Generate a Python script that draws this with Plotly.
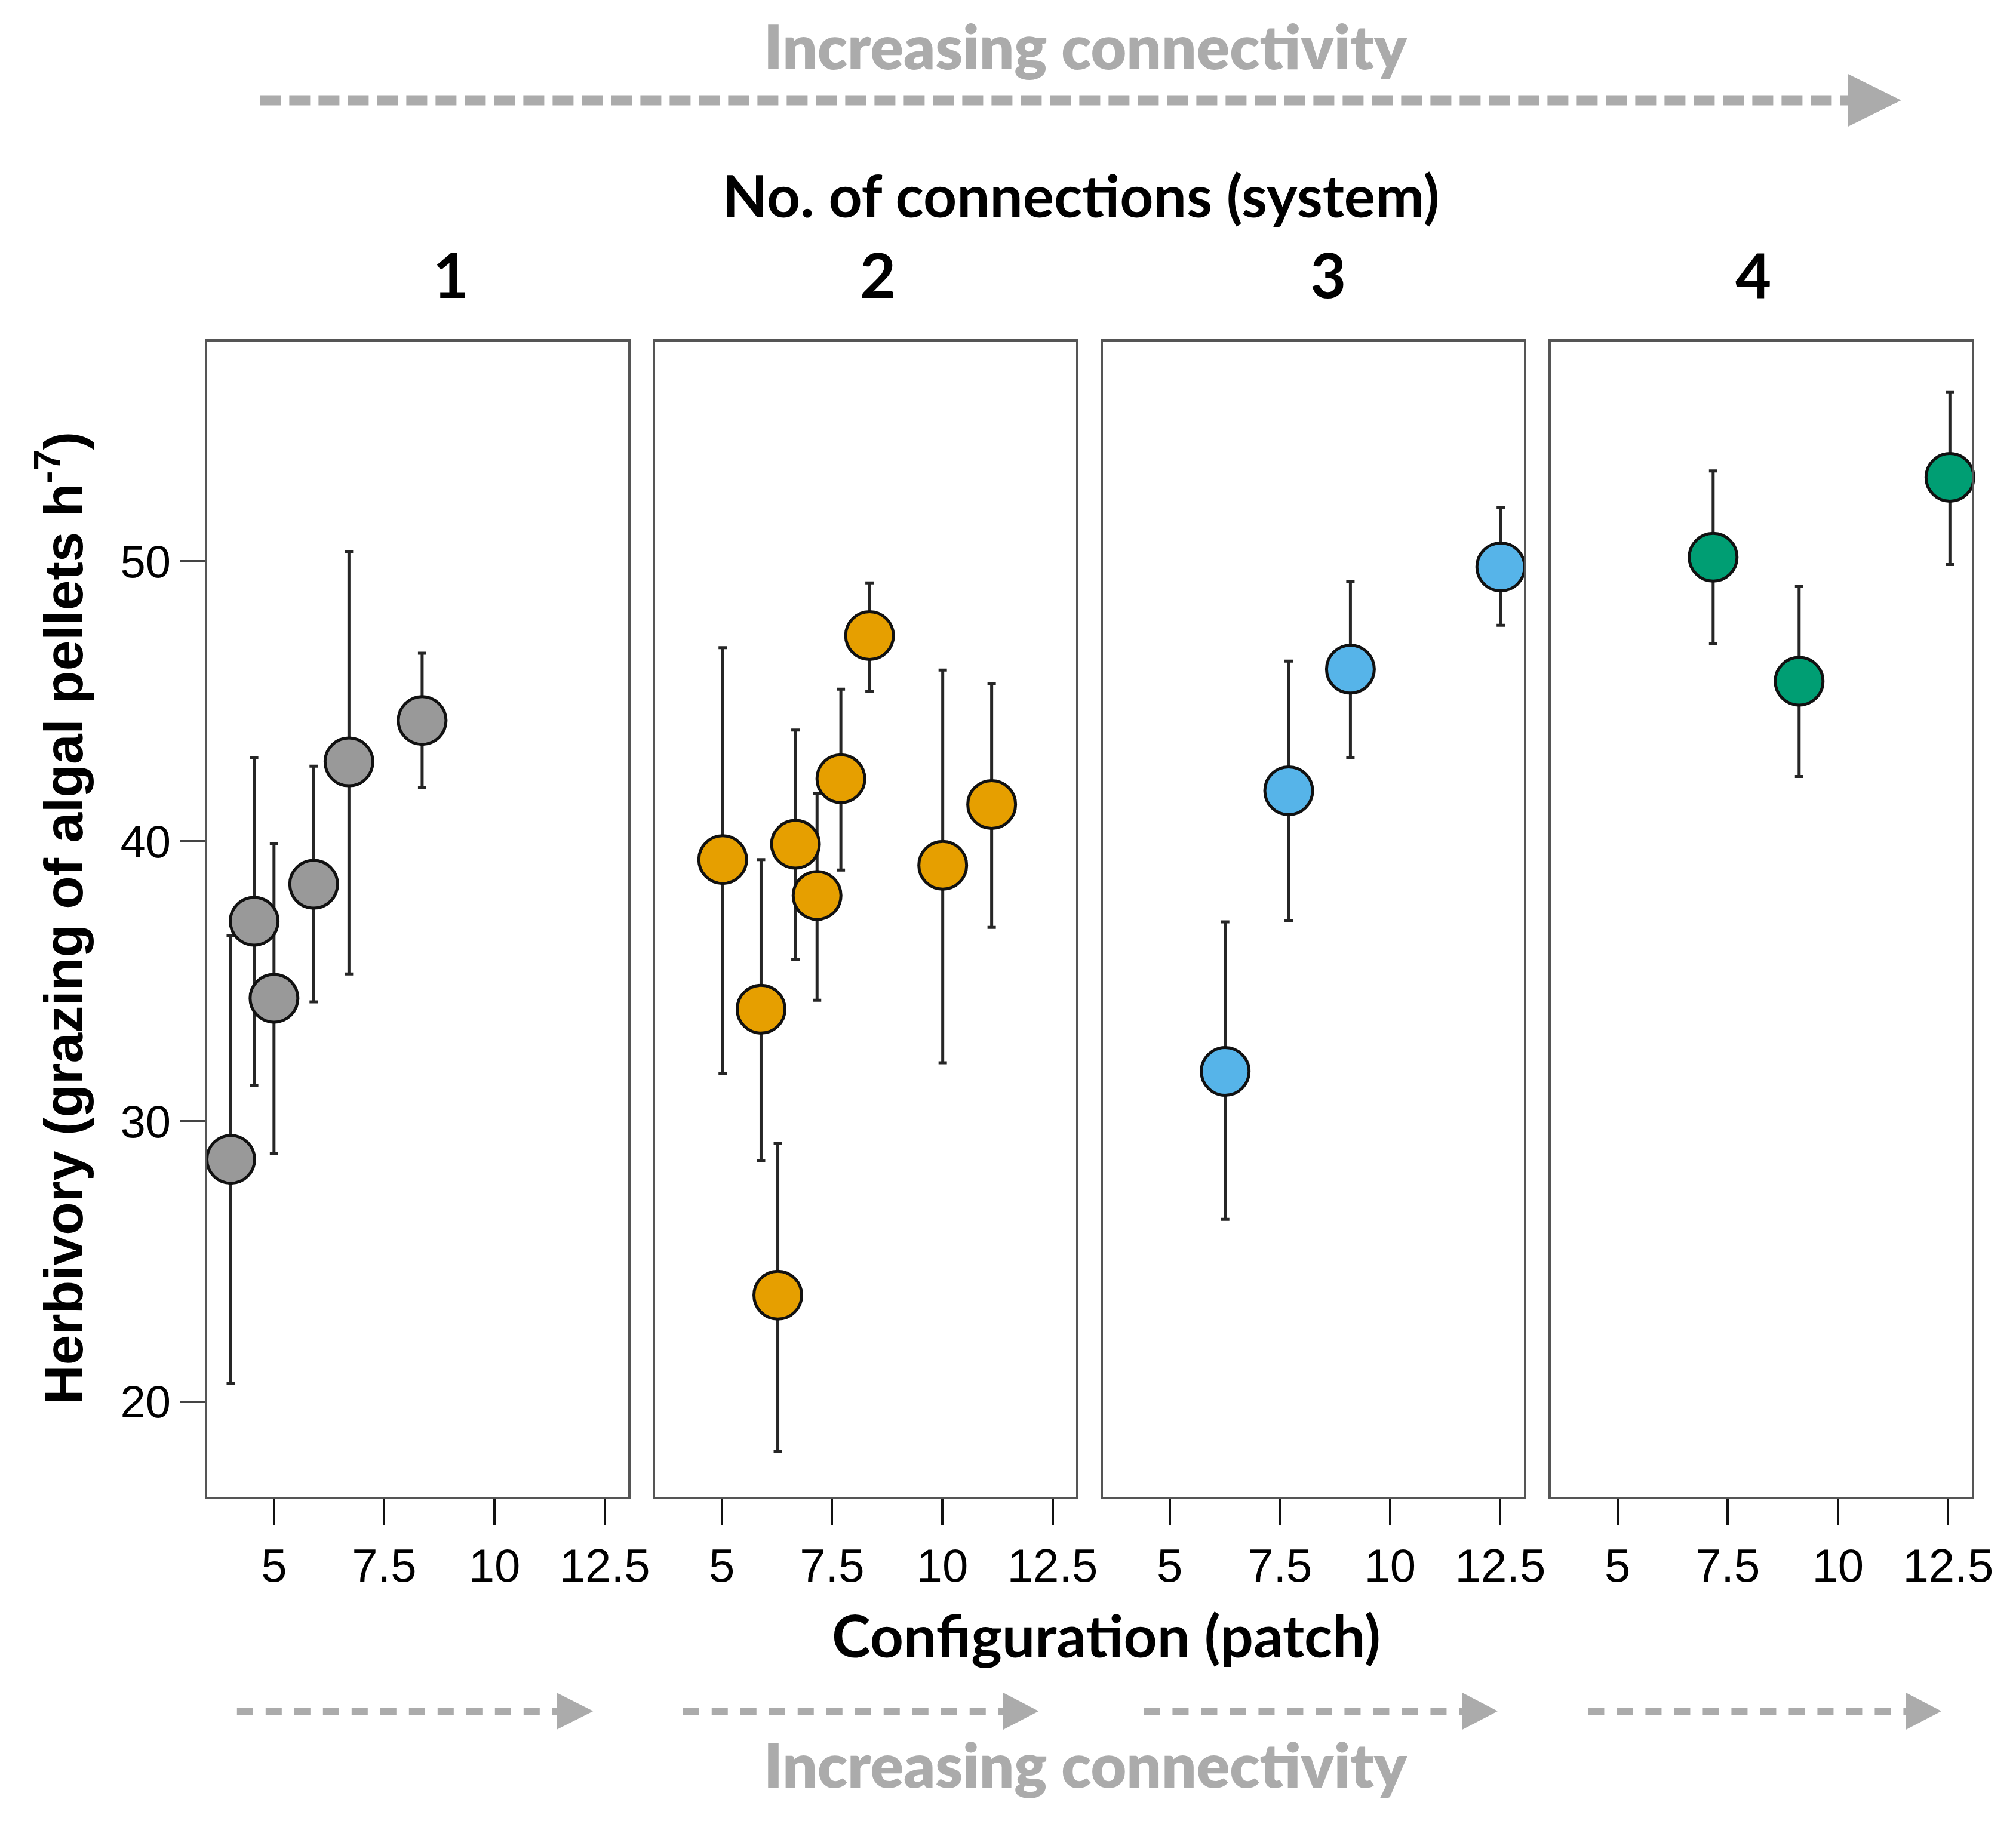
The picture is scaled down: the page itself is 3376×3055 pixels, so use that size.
import plotly.graph_objects as go

W, H = 3376, 3055

# ---------------- data ----------------
panel_titles = ["1", "2", "3", "4"]
colors = ["#999999", "#E69F00", "#56B4E9", "#009E73"]

p1_x = [4.02, 4.55, 5.00, 5.90, 6.70, 8.36]
p1_y = [28.65, 37.15, 34.40, 38.47, 42.84, 44.32]
p1_hi = [36.64, 43.00, 39.93, 42.69, 50.35, 46.72]
p1_lo = [20.66, 31.28, 28.85, 34.27, 35.27, 41.92]

p2_x = [5.02, 5.89, 6.27, 6.67, 7.16, 7.70, 8.35, 10.01, 11.12]
p2_y = [39.35, 34.01, 23.80, 39.90, 38.07, 42.24, 47.35, 39.15, 41.32]
p2_hi = [46.92, 39.35, 29.22, 43.98, 41.72, 45.44, 49.23, 46.12, 45.64]
p2_lo = [31.71, 28.59, 18.23, 35.78, 34.33, 38.98, 45.35, 32.10, 36.93]

p3_x = [6.26, 7.70, 9.10, 12.51]
p3_y = [31.79, 41.81, 46.15, 49.80]
p3_hi = [37.13, 46.44, 49.29, 51.92]
p3_lo = [26.51, 37.16, 42.98, 47.72]

p4_x = [7.17, 9.12, 12.54]
p4_y = [50.15, 45.72, 53.00]
p4_hi = [53.23, 49.12, 56.03]
p4_lo = [47.06, 42.32, 49.89]

x_tickvals = [5, 7.5, 10, 12.5]
x_ticktext = ["5", "7.5", "10", "12.5"]
y_tickvals = [20, 30, 40, 50]
y_ticktext = ["20", "30", "40", "50"]

x_title = "Configuration (patch)"
y_title = "Herbivory (grazing of algal pellets h<sup>-7</sup>)"
top_title = "No. of connections (system)"
arrow_text = "Increasing connectivity"

panels = [
    (p1_x, p1_y, p1_hi, p1_lo),
    (p2_x, p2_y, p2_hi, p2_lo),
    (p3_x, p3_y, p3_hi, p3_lo),
    (p4_x, p4_y, p4_hi, p4_lo),
]

# ---------------- layout helpers ----------------
def fx(p):
    return p / W

def fy(p):
    return 1 - p / H

PANEL_W = 712
panel_left = [343, 1101, 1859, 2617]
top_px, bot_px = 564, 2499
xr = [3.49, 13.03]
yr = [16.6, 57.85]

GRAY = "#ababab"
TITLE_FONT = "Lato"
AX_FONT = "Liberation Sans"

fig = go.Figure()
layout = dict(
    width=W, height=H,
    margin=dict(l=0, r=0, t=0, b=0),
    paper_bgcolor="white", plot_bgcolor="white",
    showlegend=False,
)

for i, (xs, ys, hi, lo) in enumerate(panels):
    sfx = "" if i == 0 else str(i + 1)
    fig.add_trace(go.Scatter(
        x=xs, y=ys, mode="markers",
        xaxis="x" + sfx, yaxis="y" + sfx,
        cliponaxis=False,
        error_y=dict(type="data", symmetric=False,
                     array=[h - v for h, v in zip(hi, ys)],
                     arrayminus=[v - l for l, v in zip(lo, ys)],
                     color="#262626", thickness=5, width=7),
        marker=dict(size=80, color=colors[i],
                    line=dict(color="#111111", width=5)),
        hoverinfo="skip",
    ))
    x0 = panel_left[i]
    x1 = x0 + PANEL_W
    layout["xaxis" + sfx] = dict(
        domain=[fx(x0), fx(x1)], range=xr, anchor="y" + sfx,
        tickvals=x_tickvals, ticktext=x_ticktext,
        ticks="outside", ticklen=44, tickwidth=4, tickcolor="#111111",
        showline=True, mirror=True, linecolor="#555555", linewidth=4,
        showgrid=False, zeroline=False,
        tickfont=dict(family=AX_FONT, size=78, color="black"),
    )
    layout["yaxis" + sfx] = dict(
        domain=[fy(bot_px), fy(top_px)], range=yr, anchor="x" + sfx,
        tickvals=y_tickvals, ticktext=y_ticktext,
        ticks="outside" if i == 0 else "", ticklen=42, tickwidth=4,
        tickcolor="#444444", showticklabels=(i == 0),
        showline=True, mirror=True, linecolor="#555555", linewidth=4,
        showgrid=False, zeroline=False,
        tickfont=dict(family=AX_FONT, size=76, color="black"),
    )

fig.update_layout(**layout)

# ---------------- annotations ----------------
ann = []
def add_text(text, x, y, size, color="black", family=TITLE_FONT, weight=700, angle=0):
    ann.append(dict(text=text, x=fx(x), y=fy(y), xref="paper", yref="paper",
                    showarrow=False, xanchor="center", yanchor="middle",
                    textangle=angle,
                    font=dict(family=family, size=size, color=color, weight=weight)))

add_text(arrow_text, 1830, 68, 103, GRAY, weight=800)
add_text(top_title, 1822, 318, 98)
for t, xc in zip(panel_titles, [755, 1478, 2240, 2960]):
    add_text(t, xc, 450, 104)
add_text(x_title, 1864, 2730, 98)
add_text(arrow_text, 1830, 2946, 103, GRAY, weight=800)
add_text(y_title, 92, 1530, 91, family=AX_FONT, weight=700, angle=-90)

# ---------------- dashed arrows ----------------
shapes = []
def arrow(xs, xb, xt, yc, thick, dash, half):
    shapes.append(dict(type="line", xref="paper", yref="paper",
                       x0=fx(xs), x1=fx(xb), y0=fy(yc), y1=fy(yc),
                       line=dict(color=GRAY, width=thick, dash=dash)))
    shapes.append(dict(type="path", xref="paper", yref="paper",
                       path=f"M {fx(xb)},{fy(yc - half)} L {fx(xt)},{fy(yc)} L {fx(xb)},{fy(yc + half)} Z",
                       fillcolor=GRAY, line=dict(width=0)))

arrow(432, 3120, 3210, 160, 17, "35px,14px", 44)
for xs, xb, xt in [(393, 934, 996), (1148, 1690, 1750), (1928, 2467, 2527), (2680, 3218, 3278)]:
    arrow(xs, xb, xt, 2858, 12, "27px,21px", 31)

fig.update_layout(annotations=ann, shapes=shapes)
fig.write_html("out.html")
